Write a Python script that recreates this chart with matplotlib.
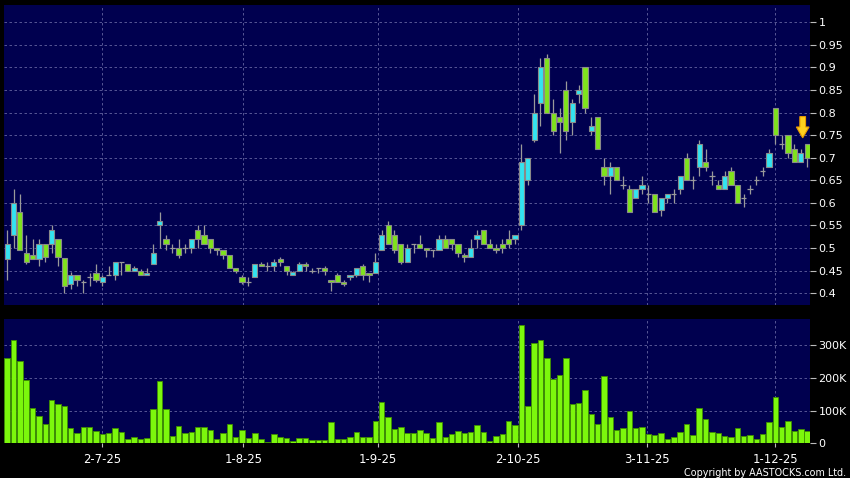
import matplotlib
matplotlib.use("Agg")
import matplotlib.pyplot as plt
from matplotlib.patches import Rectangle, Polygon

# daily candles, oldest first
opens = [0.475, 0.53, 0.58, 0.49, 0.485, 0.475, 0.51, 0.51, 0.52, 0.478,
         0.42, 0.44, 0.425, 0.435, 0.445, 0.425, 0.44, 0.44, 0.47, 0.465,
         0.45, 0.45, 0.44, 0.465, 0.55, 0.52, 0.50, 0.50, 0.50, 0.50,
         0.54, 0.53, 0.52, 0.50, 0.495, 0.485, 0.455, 0.435, 0.425, 0.435,
         0.465, 0.46, 0.46, 0.475, 0.46, 0.44, 0.45, 0.465, 0.45, 0.455,
         0.455, 0.43, 0.44, 0.425, 0.435, 0.44, 0.46, 0.445, 0.445, 0.495,
         0.55, 0.53, 0.51, 0.47, 0.51, 0.51, 0.50, 0.495, 0.495, 0.52,
         0.52, 0.51, 0.485, 0.48, 0.52, 0.54, 0.51, 0.50, 0.51, 0.52,
         0.52, 0.55, 0.65, 0.74, 0.82, 0.92, 0.80, 0.79, 0.85, 0.78,
         0.84, 0.90, 0.76, 0.79, 0.68, 0.66, 0.68, 0.64, 0.63, 0.61,
         0.63, 0.62, 0.62, 0.585, 0.61, 0.62, 0.63, 0.70, 0.65, 0.68,
         0.69, 0.66, 0.64, 0.63, 0.67, 0.64, 0.61, 0.63, 0.65, 0.67,
         0.68, 0.81, 0.73, 0.75, 0.72, 0.69, 0.73]
highs = [0.54, 0.63, 0.62, 0.53, 0.52, 0.52, 0.51, 0.55, 0.52, 0.478,
         0.446, 0.44, 0.43, 0.445, 0.465, 0.44, 0.46, 0.47, 0.47, 0.465,
         0.46, 0.454, 0.455, 0.51, 0.58, 0.53, 0.51, 0.52, 0.51, 0.52,
         0.55, 0.55, 0.52, 0.50, 0.495, 0.485, 0.455, 0.44, 0.435, 0.465,
         0.47, 0.47, 0.475, 0.48, 0.46, 0.45, 0.47, 0.47, 0.455, 0.455,
         0.46, 0.43, 0.445, 0.43, 0.44, 0.455, 0.465, 0.445, 0.49, 0.54,
         0.56, 0.54, 0.51, 0.51, 0.51, 0.53, 0.50, 0.495, 0.53, 0.53,
         0.52, 0.51, 0.49, 0.52, 0.54, 0.54, 0.52, 0.51, 0.52, 0.54,
         0.53, 0.73, 0.70, 0.84, 0.92, 0.93, 0.83, 0.81, 0.87, 0.83,
         0.86, 0.90, 0.79, 0.79, 0.70, 0.69, 0.68, 0.66, 0.64, 0.63,
         0.66, 0.64, 0.62, 0.61, 0.62, 0.63, 0.66, 0.71, 0.66, 0.74,
         0.72, 0.67, 0.65, 0.67, 0.68, 0.64, 0.62, 0.64, 0.66, 0.68,
         0.72, 0.81, 0.75, 0.75, 0.73, 0.72, 0.73]
lows = [0.43, 0.50, 0.495, 0.465, 0.475, 0.46, 0.47, 0.49, 0.46, 0.40,
        0.41, 0.415, 0.40, 0.415, 0.425, 0.415, 0.44, 0.43, 0.44, 0.45,
        0.45, 0.44, 0.44, 0.465, 0.50, 0.495, 0.49, 0.478, 0.49, 0.489,
        0.50, 0.51, 0.49, 0.485, 0.475, 0.455, 0.445, 0.42, 0.415, 0.435,
        0.46, 0.45, 0.45, 0.46, 0.44, 0.44, 0.45, 0.45, 0.445, 0.445,
        0.44, 0.405, 0.425, 0.415, 0.43, 0.435, 0.43, 0.425, 0.445, 0.495,
        0.51, 0.49, 0.465, 0.47, 0.49, 0.50, 0.48, 0.48, 0.495, 0.50,
        0.495, 0.48, 0.47, 0.48, 0.50, 0.51, 0.50, 0.49, 0.49, 0.50,
        0.51, 0.54, 0.64, 0.735, 0.77, 0.80, 0.75, 0.71, 0.74, 0.75,
        0.82, 0.80, 0.75, 0.72, 0.64, 0.62, 0.65, 0.63, 0.58, 0.61,
        0.62, 0.60, 0.58, 0.57, 0.60, 0.60, 0.62, 0.65, 0.63, 0.66,
        0.67, 0.64, 0.63, 0.63, 0.64, 0.60, 0.59, 0.62, 0.64, 0.66,
        0.68, 0.73, 0.72, 0.70, 0.69, 0.69, 0.68]
closes = [0.51, 0.60, 0.495, 0.47, 0.475, 0.51, 0.48, 0.54, 0.48, 0.415,
          0.44, 0.43, 0.425, 0.435, 0.43, 0.435, 0.44, 0.47, 0.47, 0.45,
          0.455, 0.44, 0.445, 0.49, 0.56, 0.51, 0.50, 0.485, 0.50, 0.52,
          0.52, 0.51, 0.50, 0.495, 0.485, 0.455, 0.45, 0.425, 0.425, 0.465,
          0.46, 0.46, 0.47, 0.47, 0.45, 0.446, 0.465, 0.46, 0.45, 0.455,
          0.45, 0.425, 0.425, 0.42, 0.44, 0.455, 0.44, 0.44, 0.47, 0.53,
          0.51, 0.495, 0.47, 0.50, 0.51, 0.50, 0.495, 0.495, 0.52, 0.50,
          0.51, 0.49, 0.48, 0.50, 0.53, 0.51, 0.50, 0.495, 0.50, 0.51,
          0.53, 0.69, 0.70, 0.80, 0.90, 0.80, 0.76, 0.78, 0.76, 0.82,
          0.85, 0.81, 0.77, 0.72, 0.66, 0.68, 0.65, 0.64, 0.58, 0.63,
          0.64, 0.62, 0.58, 0.61, 0.62, 0.62, 0.66, 0.65, 0.65, 0.73,
          0.68, 0.66, 0.63, 0.66, 0.64, 0.60, 0.61, 0.63, 0.65, 0.67,
          0.71, 0.75, 0.73, 0.71, 0.69, 0.71, 0.70]
# volume in thousands of shares
volumes = [260, 316, 252, 192, 107, 82, 59, 133, 119, 115,
           46, 31, 49, 50, 38, 29, 32, 47, 35, 12,
           19, 13, 16, 105, 189, 105, 23, 52, 31, 35,
           50, 50, 40, 13, 30, 58, 20, 40, 16, 31,
           13, 5, 28, 18, 17, 7, 16, 16, 10, 10,
           10, 64, 13, 13, 20, 36, 20, 20, 69, 125,
           79, 44, 50, 32, 31, 41, 33, 15, 66, 19,
           29, 39, 32, 35, 55, 34, 7, 21, 29, 68,
           56, 362, 113, 307, 317, 262, 196, 209, 262, 120,
           123, 162, 89, 59, 205, 81, 41, 47, 99, 46,
           49, 28, 26, 31, 14, 20, 34, 58, 26, 109,
           74, 35, 32, 22, 19, 47, 21, 26, 14, 29,
           64, 141, 50, 68, 39, 44, 37]

tick_pos = [15.0, 37.2, 58.4, 80.5, 100.8, 121.0]
tick_labels = ["2-7-25", "1-8-25", "1-9-25", "2-10-25", "3-11-25", "1-12-25"]
price_ticks = [0.4, 0.45, 0.5, 0.55, 0.6, 0.65, 0.7, 0.75, 0.8, 0.85, 0.9, 0.95, 1.0]
vol_ticks = [0, 100, 200, 300]

BG = "#00004f"
UP = "#33e3f0"
DOWN = "#7fe31c"
EDGE = "#8a8a8a"
GRID = "#6464a0"

W, H = 850, 478
fig = plt.figure(figsize=(8.5, 4.78), dpi=100, facecolor="black")
ax = fig.add_axes([4 / W, 1 - 305 / H, 806 / W, 300 / H])
axv = fig.add_axes([4 / W, 1 - 443.3 / H, 806 / W, 124 / H])

n = len(closes)
for a in (ax, axv):
    a.set_facecolor(BG)
    for s in a.spines.values():
        s.set_visible(False)
    a.set_xlim(-0.5, 126.45)
    a.set_xticks(tick_pos)
    a.yaxis.tick_right()
    a.tick_params(axis="y", direction="out", length=4, width=0.8, color="#bbbbbb",
                  labelcolor="white", labelsize=8, pad=2)
    a.grid(True, color=GRID, lw=0.6, ls=(0, (3, 3)))
    a.set_axisbelow(True)

# price panel
bw = 0.82
for i in range(n):
    o, h, l, c = opens[i], highs[i], lows[i], closes[i]
    ax.vlines(i, l, h, color="#9a9a9a", lw=0.9, zorder=2)
    if c == o:
        ax.hlines(o, i - bw / 2, i + bw / 2, color="#9a9a9a", lw=0.9, zorder=3)
    else:
        col = UP if c > o else DOWN
        ax.add_patch(Rectangle((i - bw / 2, min(o, c)), bw, abs(c - o),
                               facecolor=col, edgecolor=EDGE, lw=0.8, zorder=3))

ax.set_ylim(0.374, 1.038)
ax.set_yticks(price_ticks)
ax.set_yticklabels(["{:g}".format(t) for t in price_ticks])
ax.tick_params(axis="x", length=0, labelbottom=False)

# marker arrow above the latest session
xa = n - 1.7
tip = highs[-1] + 0.014
arrow = Polygon([(xa - 0.45, tip + 0.047), (xa + 0.45, tip + 0.047),
                 (xa + 0.45, tip + 0.024), (xa + 1.0, tip + 0.024),
                 (xa, tip), (xa - 1.0, tip + 0.024), (xa - 0.45, tip + 0.024)],
                closed=True, facecolor="#ffcf1f", edgecolor="#e89a00", lw=0.8,
                zorder=5, clip_on=False)
ax.add_patch(arrow)

# volume panel
axv.bar(range(n), [v * 1000 for v in volumes], width=0.86, color="#7cf70c",
        edgecolor="#3f8f00", lw=0.6, zorder=3)
axv.set_ylim(0, 379000)
axv.set_yticks([v * 1000 for v in vol_ticks])
axv.set_yticklabels(["{}K".format(v) if v else "0" for v in vol_ticks])
axv.set_xticklabels(tick_labels)
axv.tick_params(axis="x", direction="out", length=3, width=0.8, color="#bbbbbb",
                labelcolor="white", labelsize=8.4, pad=4)

fig.text(0.996, 0.0, "Copyright by AASTOCKS.com Ltd.", color="white",
         fontsize=6.9, ha="right", va="bottom")

fig.savefig("out.png", dpi=100, facecolor="black")
